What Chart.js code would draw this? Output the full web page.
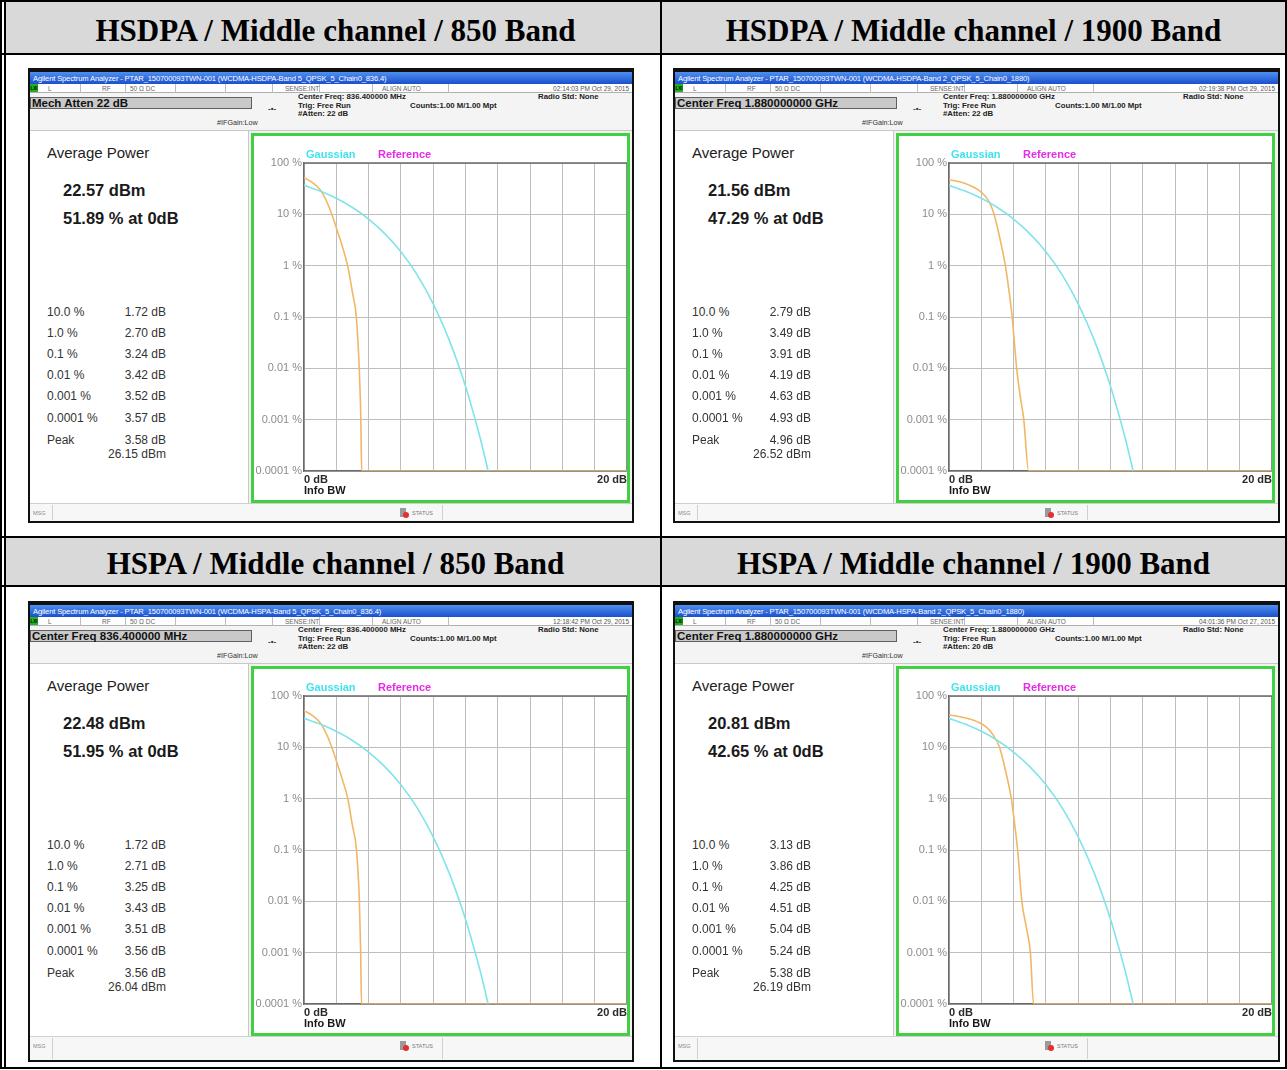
<!DOCTYPE html>
<html>
<head>
<meta charset="utf-8">
<title>CCDF plots</title>
<script src="https://cdn.jsdelivr.net/npm/chart.js@4.4.1/dist/chart.umd.min.js"></script>
<style>
body { margin: 0; background: #fff; }
#page { position: relative; width: 1287px; height: 1070px; overflow: hidden; font-family: 'Liberation Sans', Arial, sans-serif; }
.abs { position: absolute; white-space: nowrap; box-sizing: border-box; }
.hdr { font-family: 'Liberation Serif', 'Times New Roman', serif; font-weight: bold; font-size: 31px; text-align: center; color: #000; }
</style>
</head>
<body>
<div id="page"></div>
<script>
// table headers, one per panel
const headers = ['HSDPA / Middle channel / 850 Band', 'HSDPA / Middle channel / 1900 Band',
                 'HSPA / Middle channel / 850 Band', 'HSPA / Middle channel / 1900 Band'];
const windowTitles = [
  'Agilent Spectrum Analyzer - PTAR_150700093TWN-001 (WCDMA-HSDPA-Band 5_QPSK_5_Chain0_836.4)',
  'Agilent Spectrum Analyzer - PTAR_150700093TWN-001 (WCDMA-HSDPA-Band 2_QPSK_5_Chain0_1880)',
  'Agilent Spectrum Analyzer - PTAR_150700093TWN-001 (WCDMA-HSPA-Band 5_QPSK_5_Chain0_836.4)',
  'Agilent Spectrum Analyzer - PTAR_150700093TWN-001 (WCDMA-HSPA-Band 2_QPSK_5_Chain0_1880)'];
const timestamps = ['02:14:03 PM Oct 29, 2015', '02:19:38 PM Oct 29, 2015', '12:18:42 PM Oct 29, 2015', '04:01:36 PM Oct 27, 2015'];
const activeBox = ['Mech Atten 22 dB', 'Center Freq 1.880000000 GHz', 'Center Freq 836.400000 MHz', 'Center Freq 1.880000000 GHz'];
const centerFreqs = ['836.400000 MHz', '1.880000000 GHz', '836.400000 MHz', '1.880000000 GHz'];
const attens = ['22 dB', '22 dB', '22 dB', '20 dB'];

// measurement results
const avgPowers = ['22.57 dBm', '21.56 dBm', '22.48 dBm', '20.81 dBm'];
const atZeroDb = ['51.89 % at 0dB', '47.29 % at 0dB', '51.95 % at 0dB', '42.65 % at 0dB'];
const statLabels = ['10.0 %', '1.0 %', '0.1 %', '0.01 %', '0.001 %', '0.0001 %', 'Peak'];
const stats1 = ['1.72 dB', '2.70 dB', '3.24 dB', '3.42 dB', '3.52 dB', '3.57 dB', '3.58 dB'];
const stats2 = ['2.79 dB', '3.49 dB', '3.91 dB', '4.19 dB', '4.63 dB', '4.93 dB', '4.96 dB'];
const stats3 = ['1.72 dB', '2.71 dB', '3.25 dB', '3.43 dB', '3.51 dB', '3.56 dB', '3.56 dB'];
const stats4 = ['3.13 dB', '3.86 dB', '4.25 dB', '4.51 dB', '5.04 dB', '5.24 dB', '5.38 dB'];
const peakDbm = ['26.15 dBm', '26.52 dBm', '26.04 dBm', '26.19 dBm'];

// axes
const xTickValues = [0, 2, 4, 6, 8, 10, 12, 14, 16, 18, 20];
const yTickValues = [0.0001, 0.001, 0.01, 0.1, 1, 10, 100];
const yTickLabels = ['0.0001 %', '0.001 %', '0.01 %', '0.1 %', '1 %', '10 %', '100 %'];

// Gaussian reference curve (dB, %)
const gaussX = [0, 1, 2, 3, 4, 5, 6, 7, 8, 9, 10, 10.5, 11, 11.4];
const gaussY = [36.8, 28.4, 20.5, 13.6, 8.1, 4.2, 1.87, 0.67, 0.18, 0.035, 0.0045, 0.0013, 0.00034, 0.0001];

// measured traces (dB, %)
const trace1X = [0, 0.5, 1.0, 1.4, 1.72, 2.0, 2.35, 2.70, 3.0, 3.24, 3.42, 3.52, 3.57, 20];
const trace1Y = [51.89, 42, 30, 18, 10, 5.5, 2.5, 1, 0.3, 0.1, 0.01, 0.001, 0.0001, 0.0001];
const trace2X = [0, 0.5, 1.0, 1.5, 2.0, 2.49, 2.79, 3.1, 3.49, 3.7, 3.91, 4.19, 4.4, 4.63, 4.93, 20];
const trace2Y = [47.29, 44, 40, 34, 27, 17.5, 10, 4, 1, 0.35, 0.1, 0.01, 0.003, 0.001, 0.0001, 0.0001];
const trace3X = [0, 0.5, 1.0, 1.4, 1.72, 2.0, 2.35, 2.71, 3.0, 3.25, 3.43, 3.51, 3.56, 20];
const trace3Y = [51.95, 42, 30, 18, 10, 5.5, 2.5, 1, 0.3, 0.1, 0.01, 0.001, 0.0001, 0.0001];
const trace4X = [0, 0.6, 1.2, 1.8, 2.3, 2.7, 3.13, 3.5, 3.86, 4.05, 4.25, 4.51, 4.8, 5.04, 5.24, 20];
const trace4Y = [42.65, 40, 36, 31, 25, 18, 10, 3.5, 1, 0.35, 0.1, 0.01, 0.003, 0.001, 0.0001, 0.0001];

const allStats = [stats1, stats2, stats3, stats4];
const tracesX = [trace1X, trace2X, trace3X, trace4X];
const tracesY = [trace1Y, trace2Y, trace3Y, trace4Y];

const page = document.getElementById('page');

function box(parent, x, y, w, h, css) {
  const d = document.createElement('div');
  d.className = 'abs';
  d.style.cssText = `left:${x}px;top:${y}px;width:${w}px;height:${h}px;` + (css || '');
  parent.appendChild(d);
  return d;
}

function text(parent, x, y, str, size, css, right) {
  const d = document.createElement('div');
  d.className = 'abs';
  const lh = Math.round(size * 1.2);
  d.style.cssText = `top:${y - lh / 2}px;font-size:${size}px;line-height:${lh}px;` + (css || '');
  if (right) {
    d.style.left = (x - 400) + 'px';
    d.style.width = '400px';
    d.style.textAlign = 'right';
  } else {
    d.style.left = x + 'px';
  }
  d.textContent = str;
  parent.appendChild(d);
  return d;
}

// table grid
const black = 'background:#000;';
box(page, 0, 0, 1287, 2, black);
box(page, 0, 0, 2, 1069, black);
box(page, 4, 0, 1.5, 1069, black);
box(page, 1285, 0, 2, 1069, black);
box(page, 0, 1067, 1287, 2, black);
box(page, 660, 0, 2, 1069, black);
box(page, 5.5, 2, 654.5, 51, 'background:#d9d9d9;');
box(page, 662, 2, 623, 51, 'background:#d9d9d9;');
box(page, 0, 53, 1287, 2, black);
box(page, 0, 536, 1287, 2, black);
box(page, 5.5, 538, 654.5, 47, 'background:#d9d9d9;');
box(page, 662, 538, 623, 47, 'background:#d9d9d9;');
box(page, 0, 585, 1287, 2, black);

const headerY = [31, 564];
headers.forEach((h, i) => {
  const col = i % 2, row = Math.floor(i / 2);
  const d = box(page, col ? 662 : 8, headerY[row] - 20, col ? 623 : 655, 40, 'line-height:40px;');
  d.classList.add('hdr');
  d.textContent = h;
});

const frameBorder = {
  id: 'frameBorder',
  beforeDatasetsDraw(chart) {
    const a = chart.chartArea, ctx = chart.ctx;
    ctx.save();
    ctx.strokeStyle = '#6a6a6a';
    ctx.lineWidth = 1.5;
    ctx.beginPath();
    ctx.moveTo(a.left, a.top);
    ctx.lineTo(a.right, a.top);
    ctx.lineTo(a.right, a.bottom);
    ctx.stroke();
    ctx.restore();
  }
};

function shot(i) {
  const col = i % 2, row = Math.floor(i / 2);
  const W = col ? 607 : 606, H = row ? 461 : 455;
  const s = box(page, col ? 673 : 28, row ? 601 : 68, W, H, 'background:#101010;');

  // window title bar
  const tb = box(s, 2, 4, W - 4, 12, 'background:linear-gradient(#4f8ff0,#1a50cc);');
  text(tb, 3, 6, windowTitles[i], 7.6, 'color:#fff;letter-spacing:-0.15px;');

  // status row
  const sr = box(s, 2, 16, W - 4, 9, 'background:#fff;border-bottom:1px solid #b0b0b0;');
  box(sr, 0, 0, 8, 8, 'background:#22b022;');
  text(sr, 0.5, 4.5, 'LXI', 4.5, 'color:#000;font-weight:bold;');
  [50, 95, 145, 195, 242, 289, 342, 418].forEach(x => box(sr, x, 0, 1, 9, 'background:#bdbdbd;'));
  text(sr, 18, 4.5, 'L', 6.5, 'color:#666;');
  text(sr, 72, 4.5, 'RF', 6.5, 'color:#666;');
  text(sr, 100, 4.5, '50 \u03A9   DC', 6.5, 'color:#666;');
  text(sr, 255, 4.5, 'SENSE:INT', 6.5, 'color:#666;');
  text(sr, 352, 4.5, 'ALIGN AUTO', 6.5, 'color:#666;');
  text(sr, W - 7, 4.5, timestamps[i], 6.5, 'color:#555;', true);

  // settings area
  const info = box(s, 2, 25, W - 4, 38, 'background:#f4f4f4;border-bottom:1px solid #c8c8c8;');
  const mb = box(info, 0, 4, 222, 12, 'background:#c9c9c9;border:1px solid #606060;');
  text(mb, 1, 5, activeBox[i], 11.5, 'font-weight:bold;color:#111;');
  const inf = 'font-weight:bold;color:#222;';
  text(info, 268, 3.5, 'Center Freq: ' + centerFreqs[i], 7.8, inf);
  text(info, 268, 12, 'Trig: Free Run', 7.8, inf);
  text(info, 268, 20.5, '#Atten: ' + attens[i], 7.8, inf);
  text(info, 380, 12, 'Counts:1.00 M/1.00 Mpt', 7.8, inf);
  text(info, 508, 3.5, 'Radio Std: None', 7.8, inf);
  text(info, 238, 16, '-\u2022-', 8, 'color:#333;font-weight:bold;');
  text(info, 187, 29, '#IFGain:Low', 7.2, 'color:#333;');

  // left results panel
  const lp = box(s, 2, 63, 219, 372, 'background:#fff;border-right:1px solid #c8c8c8;');
  const dy = -63, dx = -2;
  text(lp, 19 + dx, 85 + dy, 'Average Power', 15, 'color:#222;');
  text(lp, 35 + dx, 122 + dy, avgPowers[i], 16.5, 'color:#1a1a1a;font-weight:bold;');
  text(lp, 35 + dx, 150 + dy, atZeroDb[i], 16.5, 'color:#1a1a1a;font-weight:bold;');
  const rowY = [244, 264.5, 285.5, 307, 328, 349.5, 371.5];
  statLabels.forEach((lab, k) => {
    text(lp, 19 + dx, rowY[k] + dy, lab, 12, 'color:#333;');
    text(lp, 138 + dx, rowY[k] + dy, allStats[i][k], 12, 'color:#333;', true);
  });
  text(lp, 138 + dx, 386 + dy, peakDbm[i], 12, 'color:#333;', true);

  // gray filler around the plot window
  box(s, 221, 63, W - 223, 372, 'background:#f2f2f2;');

  // plot window
  const cw = 379, ch = 370;
  const holder = box(s, 223, 65, cw, ch, 'background:#fff;');
  const canvas = document.createElement('canvas');
  canvas.width = cw;
  canvas.height = ch;
  canvas.style.cssText = 'position:absolute;left:0;top:0;';
  holder.appendChild(canvas);
  text(holder, 55, 21, 'Gaussian', 11, 'color:#3fe3ee;font-weight:bold;');
  text(holder, 127, 21, 'Reference', 11, 'color:#e82ae8;font-weight:bold;');
  box(holder, 0, 0, cw, ch, 'border:3px solid #42d042;');

  // bottom message bar
  const bb = box(s, 2, 435, W - 4, H - 437, 'background:#f7f7f7;border-top:1px solid #cfcfcf;');
  text(bb, 3, 9, 'MSG', 5.5, 'color:#888;');
  box(bb, 22, 1, 1, H - 440, 'background:#d0d0d0;');
  box(bb, 370, 4, 6, 9, 'background:#9a9a9a;');
  box(bb, 373, 8, 6, 6, 'background:#e03030;border-radius:3px;');
  text(bb, 382, 9, 'STATUS', 5.5, 'color:#777;');
  box(bb, 412, 1, 1, H - 440, 'background:#d0d0d0;');

  const font = { family: "'Liberation Sans', Arial, sans-serif" };
  new Chart(canvas, {
    type: 'line',
    data: {
      datasets: [
        {
          label: 'Gaussian',
          data: gaussX.map((x, k) => ({ x: x, y: gaussY[k] })),
          borderColor: '#80e4ea',
          borderWidth: 1.6,
          pointRadius: 0,
          cubicInterpolationMode: 'monotone'
        },
        {
          label: 'Trace',
          data: tracesX[i].map((x, k) => ({ x: x, y: tracesY[i][k] })),
          borderColor: '#f2b766',
          borderWidth: 1.6,
          pointRadius: 0,
          cubicInterpolationMode: 'monotone'
        }
      ]
    },
    options: {
      responsive: false,
      animation: false,
      devicePixelRatio: 1,
      layout: { padding: { left: 3, top: 30, right: 3, bottom: 2 } },
      plugins: { legend: { display: false }, tooltip: { enabled: false } },
      scales: {
        x: {
          type: 'linear', min: 0, max: 20,
          afterBuildTicks: sc => { sc.ticks = xTickValues.map(v => ({ value: v })); },
          afterFit: sc => { sc.height = 30; },
          ticks: {
            autoSkip: false, maxRotation: 0, align: 'inner', padding: 2, color: '#2a2a2a',
            font: Object.assign({ size: 11, weight: 'bold' }, font),
            callback: v => v === 0 ? '0 dB' : (v === 20 ? '20 dB' : '')
          },
          grid: { color: '#bdbdbd', drawTicks: false },
          border: { color: '#6a6a6a', width: 1.5 },
          title: {
            display: true, text: 'Info BW', align: 'start', color: '#1a1a1a',
            font: Object.assign({ size: 11, weight: 'bold' }, font),
            padding: { top: 0, bottom: 3 }
          }
        },
        y: {
          type: 'logarithmic', min: 0.0001, max: 100,
          afterBuildTicks: sc => { sc.ticks = yTickValues.map(v => ({ value: v })); },
          afterFit: sc => { sc.width = 50; },
          ticks: {
            autoSkip: false, padding: 2, color: '#8c8c8c',
            font: Object.assign({ size: 11 }, font),
            callback: (v, idx) => yTickLabels[idx]
          },
          grid: { color: '#bdbdbd', drawTicks: false },
          border: { color: '#6a6a6a', width: 1.5 }
        }
      }
    },
    plugins: [frameBorder]
  });
}

[0, 1, 2, 3].forEach(shot);
</script>
</body>
</html>
